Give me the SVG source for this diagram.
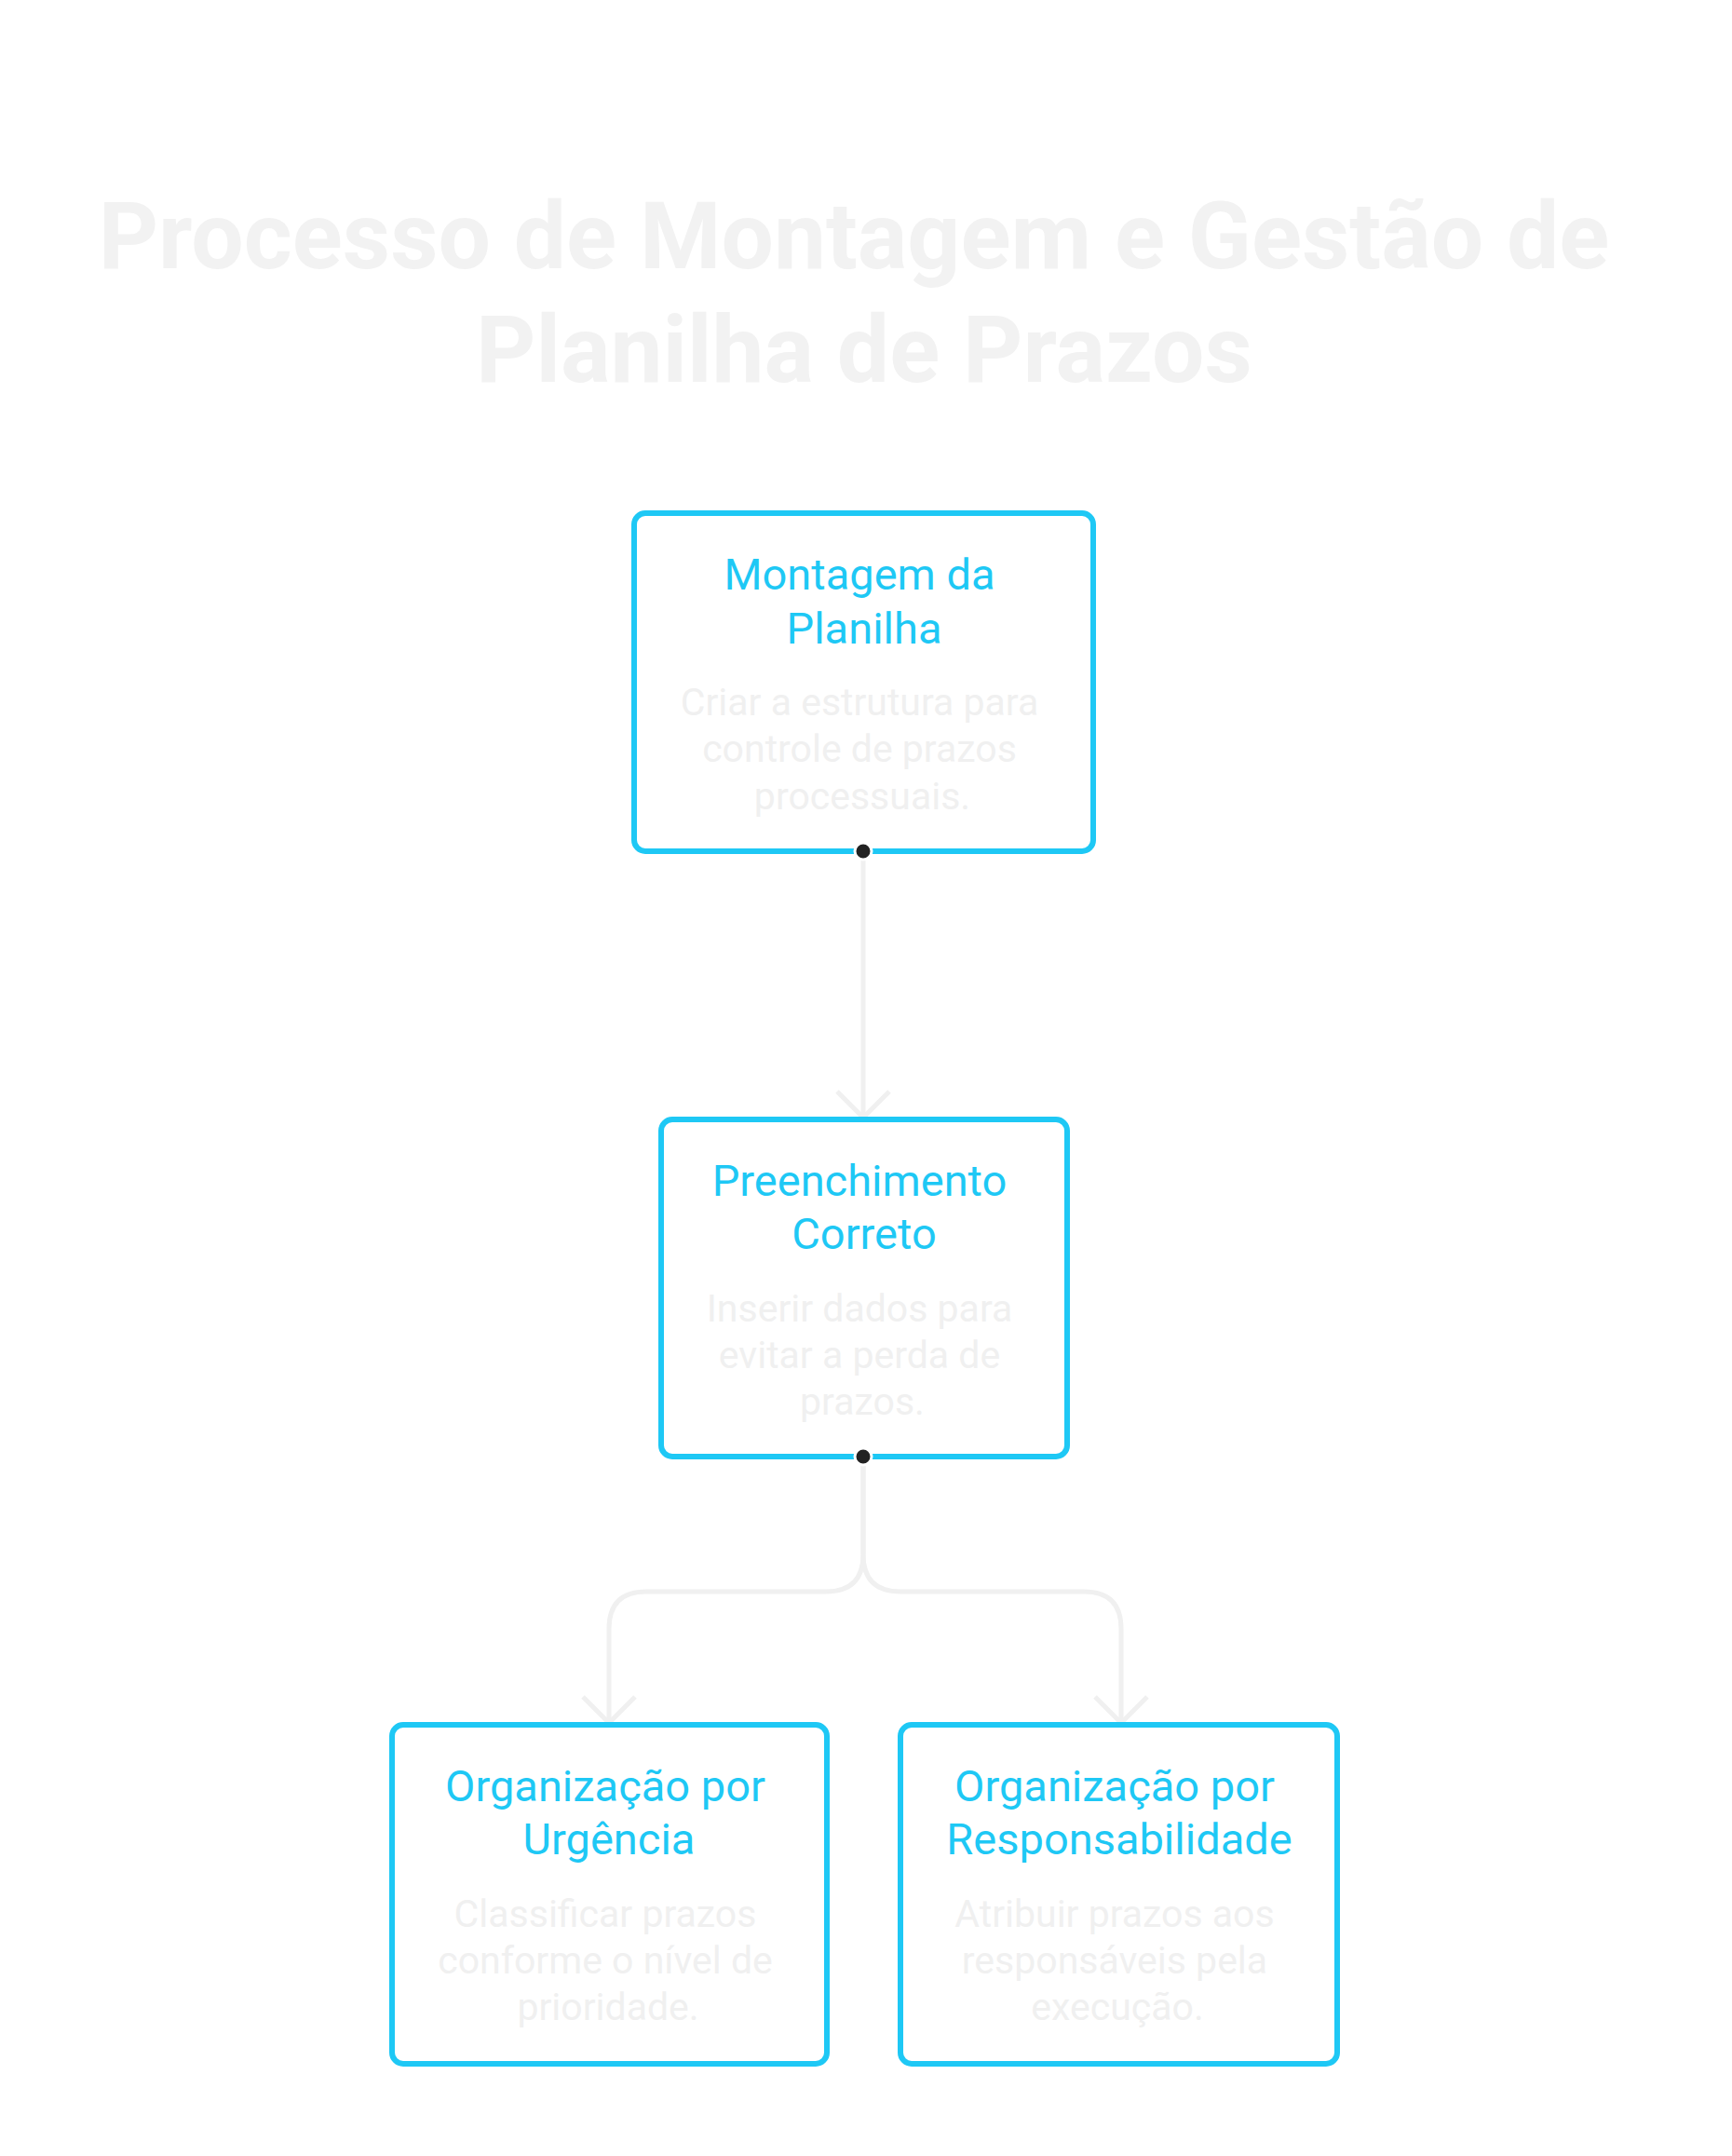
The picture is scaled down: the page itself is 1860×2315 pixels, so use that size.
<svg xmlns="http://www.w3.org/2000/svg" width="1860" height="2315" viewBox="0 0 1860 2315">
<style>
.t{font-family:Roboto,"Liberation Sans",sans-serif;font-weight:bold;font-size:100px;fill:#f2f2f2;text-anchor:middle}
.box{fill:#fff;stroke:#1ec8f5;stroke-width:6}
.h{font-family:Roboto,"Liberation Sans",sans-serif;font-size:47px;fill:#1ec8f5;text-anchor:middle}
.d{font-family:Roboto,"Liberation Sans",sans-serif;font-size:41px;fill:#f0f0f0;text-anchor:middle}
.c{fill:none;stroke:#f0f0f0;stroke-width:5}
</style>
<rect width="1860" height="2315" fill="#fff"/>
<text class="t" x="917" y="288">Processo de Montagem e Gestão de</text>
<text class="t" x="928" y="410">Planilha de Prazos</text>
<g id="connectors">
<path class="c" d="M927 914 V1198"/>
<path class="c" d="M899 1172 L927 1200 L955 1172"/>
<path class="c" d="M927 1564 V1669 Q927 1709 887 1709 H694 Q654 1709 654 1749 V1848"/>
<path class="c" d="M927 1564 V1669 Q927 1709 967 1709 H1164 Q1204 1709 1204 1749 V1848"/>
<path class="c" d="M626 1822 L654 1850 L682 1822"/>
<path class="c" d="M1176 1822 L1204 1850 L1232 1822"/>
</g>
<g id="n1"><rect class="box" x="681" y="551" width="493" height="363" rx="12"/>
<text class="h" x="923" y="633">Montagem da</text><text class="h" x="928" y="691">Planilha</text>
<text class="d" x="923" y="768">Criar a estrutura para</text><text class="d" x="923" y="818">controle de prazos</text><text class="d" x="926" y="869">processuais.</text></g>
<g id="n2"><rect class="box" x="710" y="1202" width="436" height="362" rx="12"/>
<text class="h" x="923" y="1284">Preenchimento</text><text class="h" x="928" y="1341">Correto</text>
<text class="d" x="923" y="1419">Inserir dados para</text><text class="d" x="923" y="1469">evitar a perda de</text><text class="d" x="926" y="1519">prazos.</text></g>
<g id="n3"><rect class="box" x="421" y="1852" width="467" height="364" rx="12"/>
<text class="h" x="650" y="1934">Organização por</text><text class="h" x="654" y="1991">Urgência</text>
<text class="d" x="650" y="2069">Classificar prazos</text><text class="d" x="650" y="2119">conforme o nível de</text><text class="d" x="653" y="2169">prioridade.</text></g>
<g id="n4"><rect class="box" x="967" y="1852" width="469" height="364" rx="12"/>
<text class="h" x="1197" y="1934">Organização por</text><text class="h" x="1202" y="1991">Responsabilidade</text>
<text class="d" x="1197" y="2069">Atribuir prazos aos</text><text class="d" x="1197" y="2119">responsáveis pela</text><text class="d" x="1200" y="2169">execução.</text></g>
<g id="dots"><circle cx="927" cy="914" r="9" fill="#222" stroke="#fff" stroke-width="3"/><circle cx="927" cy="1564" r="9" fill="#222" stroke="#fff" stroke-width="3"/></g>
</svg>
